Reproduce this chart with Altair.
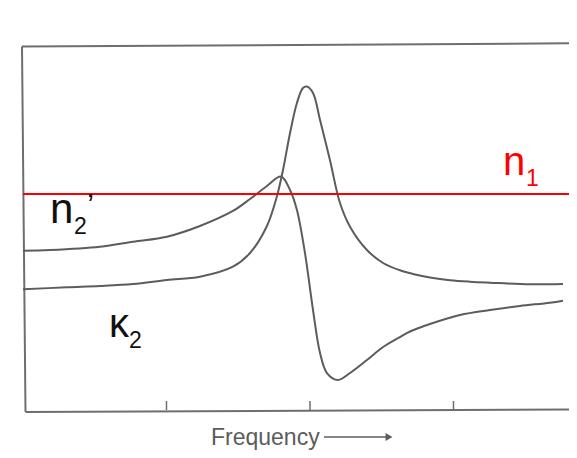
import altair as alt
import pandas as pd

# ---- data (x: frequency units, tick spacing = 1; y: arbitrary units) ----
n2_x = [0.000, 0.188, 0.537, 0.767, 1.003, 1.233, 1.463, 1.582, 1.700, 1.798, 1.861, 1.909,
        1.965, 2.021, 2.070, 2.118, 2.195, 2.279, 2.397, 2.509, 2.627, 2.697, 2.836, 3.045,
        3.254, 3.463, 3.672, 3.763]
n2_y = [4.368, 4.387, 4.477, 4.613, 4.749, 5.041, 5.450, 5.777, 6.131, 6.390, 6.022, 5.477,
        4.305, 2.752, 1.580, 1.035, 0.845, 1.035, 1.390, 1.744, 2.016, 2.166, 2.370, 2.616,
        2.752, 2.861, 2.951, 3.005]

k2_x = [0.000, 0.307, 0.537, 0.767, 1.003, 1.233, 1.463, 1.582, 1.700, 1.770, 1.812, 1.861,
        1.909, 1.951, 1.979, 2.021, 2.070, 2.139, 2.209, 2.279, 2.397, 2.509, 2.627, 2.732,
        2.836, 2.976, 3.115, 3.254, 3.533, 3.763]
k2_y = [3.316, 3.371, 3.406, 3.460, 3.569, 3.659, 3.932, 4.305, 5.041, 5.858, 6.567, 7.575,
        8.392, 8.801, 8.842, 8.665, 7.929, 6.839, 5.668, 5.022, 4.387, 4.033, 3.834, 3.719,
        3.638, 3.564, 3.523, 3.496, 3.452, 3.460]

n1_level = [5.913]
tick_values = [1, 2, 3]
x_label = "Frequency"

W, H = 546, 367
GRAY = "#5c5c5c"
FRAME = "#6e6e6e"

curves = pd.concat([
    pd.DataFrame({"series": "n2", "x": n2_x, "y": n2_y}),
    pd.DataFrame({"series": "k2", "x": k2_x, "y": k2_y}),
])

xs = alt.Scale(domain=[0, 3.805], nice=False, zero=False)
ys = alt.Scale(domain=[0, 10], nice=False, zero=False)

one = pd.DataFrame({"a": [0]})

lines = alt.Chart(curves).mark_line(
    interpolate="catmull-rom", color=GRAY, strokeWidth=2
).encode(
    x=alt.X("x:Q", scale=xs, axis=None),
    y=alt.Y("y:Q", scale=ys, axis=None),
    detail="series:N",
)

red = alt.Chart(pd.DataFrame({"y": n1_level})).mark_rule(
    color="#ff0000", strokeWidth=2
).encode(y=alt.Y("y:Q", scale=ys, axis=None))

ticks = alt.Chart(pd.DataFrame({"t": tick_values})).mark_rule(
    color=FRAME, strokeWidth=1.5
).encode(
    x=alt.X("t:Q", scale=xs, axis=None),
    y=alt.value(H - 1),
    y2=alt.value(H - 10),
)

def seg(x1, y1, x2, y2, color=FRAME, w=2):
    return alt.Chart(one).mark_rule(color=color, strokeWidth=w).encode(
        x=alt.value(x1), y=alt.value(y1), x2=alt.value(x2), y2=alt.value(y2)
    )

frame_top = seg(-1, 2.5, W, -0.7)
frame_left = seg(-1, 2.5, 2.5, 368)
frame_bottom = seg(2.5, 368, W, 365.5)

def txt(s, x, y, size, color="#111111", font="Liberation Sans"):
    return alt.Chart(one).mark_text(
        text=s, align="left", baseline="alphabetic", fontSize=size,
        font=font, color=color
    ).encode(x=alt.value(x), y=alt.value(y))

labels = [
    txt("n", 27, 179, 42),
    txt("2", 51, 190, 23),
    txt("\u2019", 64, 172, 32),
    txt("\u03ba", 86, 293, 40),
    txt("2", 106, 304, 23),
    txt("n", 480, 131, 40, color="#ff0000"),
    txt("1", 503, 142, 23, color="#ff0000"),
    txt(x_label, 188, 401, 23, color=GRAY),
]

arrow_line = seg(301, 393, 363, 393, color=GRAY, w=1.5)
arrow_head = alt.Chart(one).mark_point(
    shape="triangle-right", filled=True, size=64, color=GRAY, opacity=1
).encode(x=alt.value(366), y=alt.value(393))

chart = alt.layer(
    frame_top, frame_left, frame_bottom, ticks, lines, red,
    *labels, arrow_line, arrow_head
).properties(
    width=W, height=H,
    autosize=alt.AutoSizeParams(type="none"),
    padding={"left": 15, "top": 36, "right": 0, "bottom": 39},
    background="white",
).configure_view(stroke=None)

chart.save("out.html", embed_options={"renderer": "svg", "actions": False})
